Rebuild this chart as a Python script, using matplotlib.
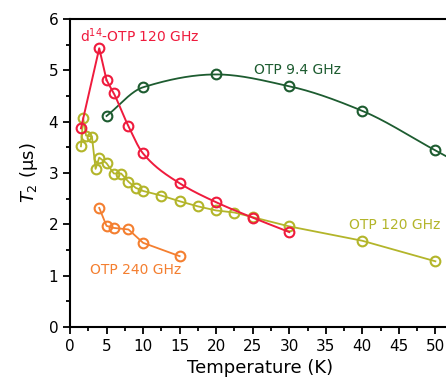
import numpy as np
import matplotlib
matplotlib.use('Agg')
import matplotlib.pyplot as plt
from matplotlib.ticker import MultipleLocator

# OTP 9.4 GHz
t_x94 = [5, 10, 20, 30, 40, 50]
y_x94 = [4.11, 4.67, 4.92, 4.69, 4.21, 3.44]

# d14-OTP 120 GHz
t_d14 = [1.5, 4, 5, 6, 8, 10, 15, 20, 25, 30]
y_d14 = [3.87, 5.43, 4.81, 4.55, 3.91, 3.38, 2.80, 2.43, 2.13, 1.85]

# OTP 120 GHz
t_120 = [1.5, 1.8, 2.2, 3.0, 3.5, 4, 5, 6, 7, 8, 9, 10, 12.5, 15, 17.5, 20, 22.5, 25, 30, 40, 50]
y_120 = [3.52, 4.07, 3.73, 3.71, 3.08, 3.30, 3.19, 2.99, 2.99, 2.83, 2.71, 2.65, 2.56, 2.45,
         2.35, 2.27, 2.23, 2.14, 1.96, 1.68, 1.28]

# OTP 240 GHz
t_240 = [4, 5, 6, 8, 10, 15]
y_240 = [2.32, 1.97, 1.93, 1.90, 1.64, 1.38]

c_green = '#1d5c30'
c_red = '#ef1b3d'
c_olive = '#b3b52a'
c_orange = '#f47f30'


def smooth(x, y, xs):
	# monotone cubic (pchip-like) through the points,
	# straight continuation with the end slope past the last point
	x = np.asarray(x, float)
	y = np.asarray(y, float)
	n = len(x)
	h = np.diff(x)
	s = np.diff(y) / h
	m = np.zeros(n)
	for i in range(1, n - 1):
		if s[i - 1] * s[i] <= 0:
			m[i] = 0.0
		else:
			w1 = 2 * h[i] + h[i - 1]
			w2 = h[i] + 2 * h[i - 1]
			m[i] = (w1 + w2) / (w1 / s[i - 1] + w2 / s[i])
	m[0] = s[0]
	m[-1] = s[-1]
	out = []
	for v in xs:
		if v > x[-1]:
			out.append(y[-1] + m[-1] * (v - x[-1]))
			continue
		i = min(max(np.searchsorted(x, v) - 1, 0), n - 2)
		t = (v - x[i]) / h[i]
		h00 = 2 * t ** 3 - 3 * t ** 2 + 1
		h10 = t ** 3 - 2 * t ** 2 + t
		h01 = -2 * t ** 3 + 3 * t ** 2
		h11 = t ** 3 - t ** 2
		out.append(h00 * y[i] + h10 * h[i] * m[i] + h01 * y[i + 1] + h11 * h[i] * m[i + 1])
	return np.array(out)


plt.rcParams['font.family'] = ['DejaVu Sans']
plt.rcParams['mathtext.fontset'] = 'dejavusans'

fig = plt.figure(figsize=(4.46, 3.83), dpi=100)
ax = fig.add_axes([70/446, 56/383, 380/446, 308/383])

mk = dict(marker='o', markersize=7, markerfacecolor='none', markeredgewidth=1.5)

# X-band: smooth curve through the points, runs off the right edge
tt = np.linspace(5, 53, 300)
ax.plot(tt, smooth(t_x94, y_x94, tt), color=c_green, lw=1.3)
ax.plot(t_x94, y_x94, ls='none', color=c_green, **mk)

ax.plot(t_120, y_120, color=c_olive, lw=1.3, **mk)
ax.plot(t_240, y_240, color=c_orange, lw=1.3, **mk)

# d14: straight up to the peak, smooth afterwards
tr = np.linspace(5, 30, 300)
ax.plot(t_d14[:3], y_d14[:3], color=c_red, lw=1.4)
ax.plot(tr, smooth(t_d14[2:], y_d14[2:], tr), color=c_red, lw=1.4)
ax.plot(t_d14, y_d14, ls='none', color=c_red, **mk)

ax.text(1.4, 5.68, r'd$^{14}$-OTP 120 GHz', color=c_red, fontsize=10, va='center')
ax.text(25.2, 5.0, 'OTP 9.4 GHz', color=c_green, fontsize=10, va='center')
ax.text(38.2, 1.98, 'OTP 120 GHz', color=c_olive, fontsize=10, va='center')
ax.text(2.7, 1.11, 'OTP 240 GHz', color=c_orange, fontsize=10, va='center')

ax.set_xlim(0, 52)
ax.set_ylim(0, 6)
ax.xaxis.set_major_locator(MultipleLocator(5))
ax.xaxis.set_minor_locator(MultipleLocator(2.5))
ax.yaxis.set_major_locator(MultipleLocator(1))
ax.yaxis.set_minor_locator(MultipleLocator(0.5))
ax.tick_params(which='both', direction='out', width=1.3, labelsize=11)
ax.tick_params(which='major', length=5)
ax.tick_params(which='minor', length=3)
for s in ax.spines.values():
	s.set_linewidth(1.5)

ax.set_xlabel('Temperature (K)', fontsize=13, labelpad=4)
ax.set_ylabel(r'$T_2$ (μs)', fontsize=13, labelpad=6)

fig.savefig('out.png', dpi=100)
